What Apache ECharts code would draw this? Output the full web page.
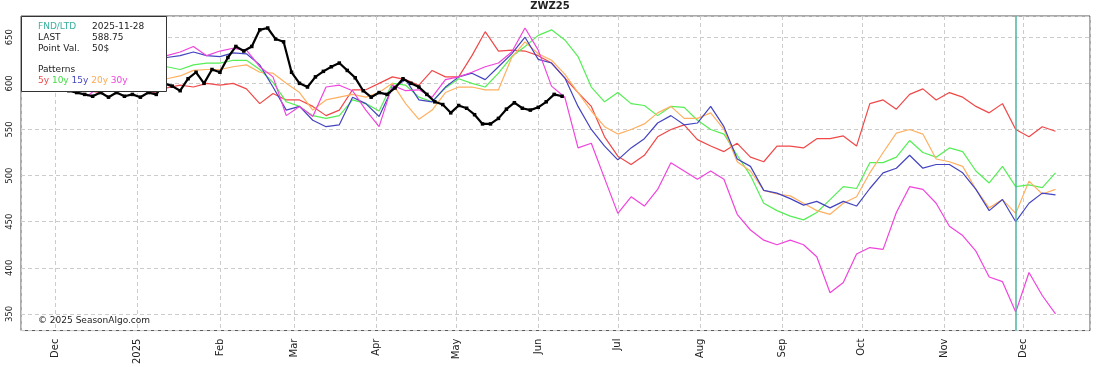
<!DOCTYPE html>
<html>
<head>
<meta charset="utf-8">
<title>ZWZ25</title>
<script src="https://cdn.jsdelivr.net/npm/echarts@6/dist/echarts.min.js"></script>
<style>
    html, body { margin: 0; padding: 0; background: #fff; }
    #chart { width: 1100px; height: 367px; }
</style>
</head>
<body>
<div id="chart"></div>
<script>
const monthNames = ["Jan", "Feb", "Mar", "Apr", "May", "Jun", "Jul", "Aug", "Sep", "Oct", "Nov", "Dec"];

// day offsets are counted from 2024-12-01
const axisStartDay = -13;
const axisEndDay = 390;
const fndDate = "2025-11-28";

// current contract (black), one value every 3 days from day 2
const currentStartDay = 2;
const currentStepDays = 3;
const current = [
    594, 592, 590, 588, 586, 590, 585, 590, 586, 588,
    585, 590, 588, 600, 597, 592, 605, 612, 600, 615,
    612, 628, 640, 635, 640, 658, 660, 648, 645, 612,
    600, 596, 607, 613, 618, 622, 614, 606, 592, 585,
    590, 588, 595, 605, 600, 596, 588, 580, 577, 568,
    576, 573, 566, 556, 556, 562, 572, 579, 573, 571,
    574, 580, 588, 586
];

// seasonal patterns, one value every 5 days from day 12
const patternStartDay = 12;
const patternStepDays = 5;
const pattern5y = [
    592, 590, 595, 592, 596, 590, 595, 598, 596, 600,
    598, 600, 594, 578, 589, 582, 582, 575, 565, 571,
    593, 593, 600, 607, 604, 598, 614, 607, 607, 630,
    656, 635, 636, 635, 630, 622, 606, 590, 575, 542,
    521, 512, 522, 542, 550, 555, 539, 532, 526, 535,
    520, 515, 532, 532, 530, 540, 540, 543, 532, 578,
    582, 572, 588, 594, 582, 590, 585, 575, 568, 578,
    550, 542, 553, 548
];
const pattern10y = [
    605, 610, 612, 615, 615, 618, 618, 615, 620, 622,
    622, 625, 625, 615, 601, 580, 575, 565, 562, 565,
    582, 578, 570, 600, 598, 585, 580, 595, 605, 600,
    596, 611, 629, 640, 652, 658, 647, 629, 596, 580,
    590, 578, 576, 565, 575, 574, 560, 550, 545, 522,
    500, 470, 462, 456, 452, 460, 474, 488, 486, 514,
    514, 520, 538, 525, 520, 530, 526, 505, 492, 510,
    488, 490, 487, 503
];
const pattern15y = [
    608, 612, 615, 620, 618, 622, 628, 630, 634, 630,
    629, 633, 632, 620, 596, 571, 575, 560, 553, 555,
    585, 578, 564, 595, 604, 582, 580, 596, 607, 611,
    604, 618, 632, 650, 626, 622, 606, 575, 550, 532,
    517, 530, 540, 557, 565, 555, 557, 575, 553, 518,
    510, 484, 481, 475, 468, 472, 465, 472, 467, 486,
    503, 508, 522, 508, 512, 512, 503, 485, 462, 474,
    450, 470, 481, 479
];
const pattern20y = [
    600, 603, 606, 605, 608, 610, 605, 608, 614, 615,
    615, 618, 620, 612, 611, 600, 590, 571, 582, 585,
    588, 585, 590, 600, 578, 561, 571, 590, 596, 596,
    593, 593, 628, 645, 632, 625, 610, 590, 570, 553,
    545, 550, 556, 568, 575, 562, 562, 568, 550, 515,
    505, 484, 480, 478, 470, 462, 458, 470, 477, 503,
    525, 546, 550, 545, 518, 515, 510, 485, 465, 474,
    459, 494, 480, 485
];
const pattern30y = [
    586, 598, 605, 612, 618, 625, 630, 634, 640, 630,
    635, 638, 636, 618, 607, 565, 575, 564, 596, 598,
    592, 571, 553, 598, 592, 593, 585, 604, 607, 612,
    618, 622, 634, 660, 636, 597, 585, 530, 535, 497,
    459, 477, 467, 485, 514, 505, 496, 505, 496, 458,
    441, 430, 425, 430, 425, 412, 373, 384, 415, 422,
    420, 460, 488, 485, 470, 445, 435, 418, 390, 385,
    352, 395, 370, 350
];

const dayTs = (d) => new Date(2024, 11, 1 + d).getTime();

const toPoints = (startDay, step, values) =>
    values.map((v, i) => [dayTs(startDay + i * step), v]);

const fontFamily = "DejaVu Sans";
const gridLine = { show: true, lineStyle: { type: [4, 3], color: "#cccccc", width: 1 } };

const patternSeries = (name, color, values) => ({
    name: name,
    type: "line",
    data: toPoints(patternStartDay, patternStepDays, values),
    showSymbol: false,
    lineStyle: { color: color, width: 1.2 },
    itemStyle: { color: color },
    z: 3
});

const getOption = () => {
    const month = 24 * 3600 * 1000 * 30;
    return {
        animation: false,
        backgroundColor: "#fff",
        title: {
            text: "ZWZ25",
            left: "center",
            top: 1,
            padding: 0,
            textStyle: { fontSize: 10, fontWeight: "bold", fontFamily: fontFamily, color: "#222" }
        },
        grid: {
            left: 21,
            right: 10,
            top: 16,
            bottom: 36,
            show: true,
            borderColor: "#555",
            borderWidth: 1
        },
        xAxis: {
            type: "time",
            min: dayTs(axisStartDay),
            max: dayTs(axisEndDay),
            splitNumber: 13,
            minInterval: month * 0.9,
            maxInterval: month * 1.05,
            axisLine: { show: false },
            axisTick: { show: false },
            axisLabel: {
                rotate: 90,
                fontSize: 10,
                fontFamily: fontFamily,
                color: "#222",
                margin: 8,
                showMinLabel: false,
                showMaxLabel: false,
                formatter: (val) => {
                    const d = new Date(val);
                    return d.getMonth() === 0 ? String(d.getFullYear()) : monthNames[d.getMonth()];
                }
            },
            splitLine: gridLine
        },
        yAxis: {
            type: "value",
            min: 332,
            max: 673,
            splitNumber: 7,
            axisLine: { show: false },
            axisTick: { show: false },
            axisLabel: {
                rotate: 90,
                fontSize: 8.5,
                fontFamily: fontFamily,
                color: "#222",
                margin: 7,
                showMinLabel: false,
                showMaxLabel: false
            },
            splitLine: gridLine
        },
        graphic: [
            {
                type: "rect",
                left: 21,
                top: 16,
                z: 100,
                shape: { width: 145, height: 75 },
                style: { fill: "#fff", stroke: "#333", lineWidth: 1 }
            },
            { type: "text", left: 38, top: 22, z: 101, style: { text: "FND/LTD", fill: "#3aaf9f", font: "9px DejaVu Sans" } },
            { type: "text", left: 92, top: 22, z: 101, style: { text: fndDate, fill: "#222", font: "9px DejaVu Sans" } },
            { type: "text", left: 38, top: 33, z: 101, style: { text: "LAST", fill: "#222", font: "9px DejaVu Sans" } },
            { type: "text", left: 92, top: 33, z: 101, style: { text: "588.75", fill: "#222", font: "9px DejaVu Sans" } },
            { type: "text", left: 38, top: 44, z: 101, style: { text: "Point Val.", fill: "#222", font: "9px DejaVu Sans" } },
            { type: "text", left: 92, top: 44, z: 101, style: { text: "50$", fill: "#222", font: "9px DejaVu Sans" } },
            { type: "text", left: 38, top: 65, z: 101, style: { text: "Patterns", fill: "#222", font: "9px DejaVu Sans" } },
            {
                type: "text",
                left: 38,
                top: 76,
                z: 101,
                style: {
                    text: "{a|5y} {b|10y} {c|15y} {d|20y} {e|30y}",
                    font: "9px DejaVu Sans",
                    rich: {
                        a: { fill: "#f04848", fontSize: 9, fontFamily: fontFamily },
                        b: { fill: "#44dd44", fontSize: 9, fontFamily: fontFamily },
                        c: { fill: "#4848c0", fontSize: 9, fontFamily: fontFamily },
                        d: { fill: "#ffaa55", fontSize: 9, fontFamily: fontFamily },
                        e: { fill: "#f044dd", fontSize: 9, fontFamily: fontFamily }
                    }
                }
            },
            {
                type: "text",
                left: 38,
                top: 316,
                z: 101,
                style: { text: "\u00a9 2025 SeasonAlgo.com", fill: "#222", font: "9px DejaVu Sans" }
            }
        ],
        series: [
            patternSeries("5y", "#f04848", pattern5y),
            patternSeries("10y", "#55ee55", pattern10y),
            patternSeries("20y", "#ffb060", pattern20y),
            patternSeries("15y", "#4444c0", pattern15y),
            patternSeries("30y", "#f044dd", pattern30y),
            {
                name: "ZWZ25",
                type: "line",
                data: toPoints(currentStartDay, currentStepDays, current),
                symbol: "rect",
                symbolSize: 3.5,
                showSymbol: true,
                lineStyle: { color: "#000", width: 2.2 },
                itemStyle: { color: "#000" },
                z: 5,
                markLine: {
                    silent: true,
                    symbol: "none",
                    label: { show: false },
                    lineStyle: { color: "#4bb5a5", width: 1.5, type: "solid" },
                    data: [{ xAxis: new Date(fndDate + "T00:00:00").getTime() }]
                }
            }
        ]
    };
};

const chart = echarts.init(document.getElementById("chart"));
chart.setOption(getOption());
</script>
</body>
</html>
